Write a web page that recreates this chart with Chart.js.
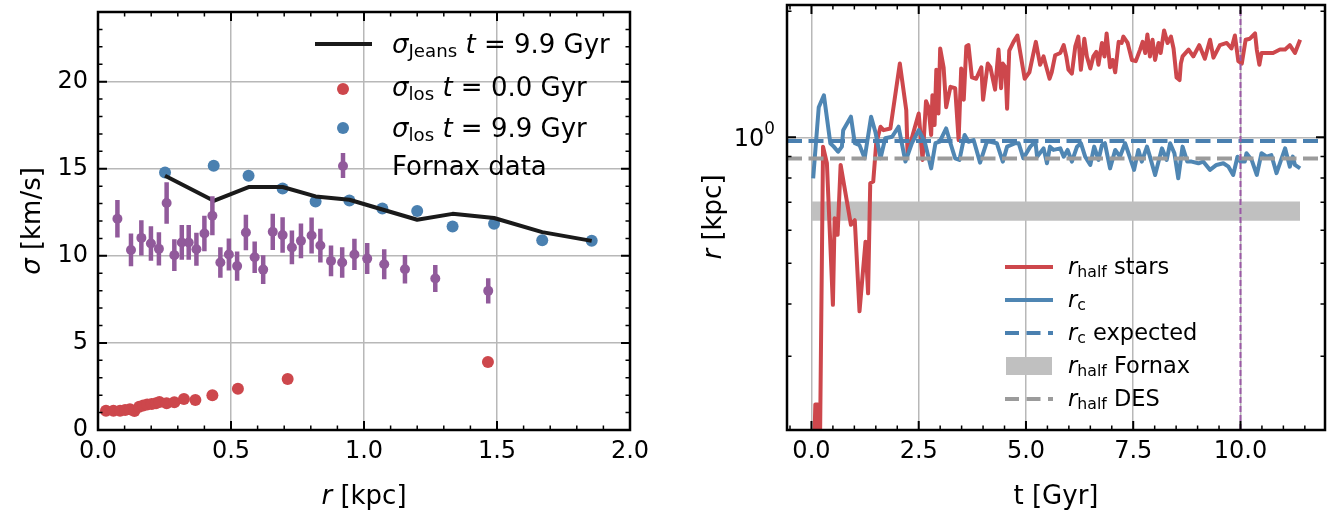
<!DOCTYPE html>
<html>
<head>
<meta charset="utf-8">
<script src="https://cdn.jsdelivr.net/npm/chart.js@4.4.1/dist/chart.umd.min.js"></script>
<style>
  html, body { margin: 0; padding: 0; background: #fff; }
  body { width: 1328px; height: 512px; position: relative; overflow: hidden;
         font-family: "DejaVu Sans", sans-serif; color: #000; }
  canvas { position: absolute; top: 0; }
  #cSigma { left: 0; }
  #cRadius { left: 660px; }
  #swatches { position: absolute; left: 0; top: 0; pointer-events: none; }
  .t { position: absolute; white-space: nowrap; line-height: 1; }
  .t i { font-style: italic; }
  .t sub { font-size: 70%; vertical-align: -0.22em; line-height: 0; }
  .t sup { font-size: 70%; vertical-align: 12px; line-height: 0; }
  .axt { font-size: 26px; transform: translate(-50%, -50%); }
  .axt.rot { transform: translate(-50%, -50%) rotate(-90deg); }
  .lg1 { font-size: 26px; left: 392px; }
  .lg2 { font-size: 22.5px; left: 1068px; }
  #logLabel { font-size: 24px; right: 553px; }
</style>
</head>
<body>
<canvas id="cSigma" width="660" height="512"></canvas>
<canvas id="cRadius" width="668" height="512"></canvas>

<svg id="swatches" width="1328" height="512">
  <!-- left legend -->
  <line x1="315" y1="44" x2="372" y2="44" stroke="#1a1a1a" stroke-width="4"/>
  <circle cx="343" cy="89" r="6" fill="#cd474c"/>
  <circle cx="343" cy="128" r="6" fill="#4a80b0"/>
  <line x1="343" y1="153" x2="343" y2="178" stroke="#915a9b" stroke-width="4.5"/>
  <circle cx="343" cy="166" r="5" fill="#915a9b"/>
  <!-- right legend -->
  <line x1="1005" y1="267" x2="1053" y2="267" stroke="#cd474c" stroke-width="4"/>
  <line x1="1005" y1="300" x2="1053" y2="300" stroke="#4f86b3" stroke-width="4"/>
  <line x1="1005" y1="333" x2="1053" y2="333" stroke="#4a80b0" stroke-width="4" stroke-dasharray="14 7.5"/>
  <rect x="1006" y="357" width="46" height="18" fill="#c0c0c0"/>
  <line x1="1005" y1="399" x2="1053" y2="399" stroke="#9b9b9b" stroke-width="4" stroke-dasharray="14 7.5"/>
</svg>

<div class="t lg1" style="top:31px"><i>σ</i><sub>Jeans</sub> <i>t</i> = 9.9 Gyr</div>
<div class="t lg1" style="top:74px"><i>σ</i><sub>los</sub> <i>t</i> = 0.0 Gyr</div>
<div class="t lg1" style="top:115px"><i>σ</i><sub>los</sub> <i>t</i> = 9.9 Gyr</div>
<div class="t lg1" style="top:153px">Fornax data</div>

<div class="t lg2" style="top:255px"><i>r</i><sub>half</sub> stars</div>
<div class="t lg2" style="top:288px"><i>r</i><sub>c</sub></div>
<div class="t lg2" style="top:321px"><i>r</i><sub>c</sub> expected</div>
<div class="t lg2" style="top:354px"><i>r</i><sub>half</sub> Fornax</div>
<div class="t lg2" style="top:387px"><i>r</i><sub>half</sub> DES</div>

<div class="t axt rot" style="left:31px; top:221px"><i>σ</i> [km/s]</div>
<div class="t axt" style="left:364px; top:495px"><i>r</i> [kpc]</div>
<div class="t axt rot" style="left:712px; top:217px"><i>r</i> [kpc]</div>
<div class="t axt" style="left:1056px; top:495px">t [Gyr]</div>
<div class="t" id="logLabel">10<sup>0</sup></div>

<script>
// ---- left panel: velocity dispersion profiles ----
const rLos0 = [0.030, 0.058, 0.083, 0.102, 0.120, 0.137, 0.155, 0.170, 0.185, 0.202,
               0.218, 0.231, 0.258, 0.287, 0.323, 0.366, 0.430, 0.526, 0.713, 1.466];
const sLos0 = [1.11, 1.11, 1.11, 1.15, 1.19, 1.09, 1.34, 1.40, 1.46, 1.49,
               1.53, 1.61, 1.53, 1.59, 1.78, 1.72, 1.99, 2.37, 2.93, 3.90];

const rLos99 = [0.252, 0.435, 0.566, 0.694, 0.818, 0.945, 1.069, 1.200, 1.333, 1.489, 1.670, 1.856];
const sLos99 = [14.79, 15.17, 14.60, 13.87, 13.12, 13.18, 12.72, 12.57, 11.69, 11.84, 10.90, 10.86];
const sJeans = [14.60, 13.16, 13.95, 13.95, 13.41, 13.22, 12.66, 12.07, 12.41, 12.17, 11.36, 10.86];

const rFnx = [0.073, 0.124, 0.163, 0.199, 0.229, 0.258, 0.287, 0.315, 0.341, 0.370, 0.400,
              0.430, 0.460, 0.492, 0.523, 0.556, 0.589, 0.621, 0.657, 0.694, 0.729, 0.763,
              0.803, 0.836, 0.876, 0.918, 0.964, 1.012, 1.076, 1.154, 1.268, 1.467];
const sFnx = [12.13, 10.34, 11.03, 10.71, 10.40, 13.03, 10.04, 10.77, 10.77, 10.38, 11.28,
              12.30, 9.62, 10.08, 9.41, 11.34, 9.92, 9.21, 11.38, 11.19, 10.48, 10.86,
              11.17, 10.59, 9.71, 9.62, 10.08, 9.84, 9.52, 9.23, 8.70, 7.99];
const eFnx = [1.08, 0.94, 1.01, 0.99, 0.96, 1.19, 0.91, 1.00, 1.00, 0.95, 1.02,
              1.12, 0.88, 0.92, 0.84, 1.02, 0.91, 0.83, 1.04, 1.02, 0.97, 1.00,
              1.03, 0.97, 0.88, 0.88, 0.90, 0.89, 0.86, 0.82, 0.78, 0.73];

const rTicks = [0, 0.5, 1.0, 1.5, 2.0];
const sigmaTicks = [0, 5, 10, 15, 20];

// ---- right panel: radii vs time ----
const tHalf = [0.00, 0.09, 0.15, 0.19, 0.27, 0.36, 0.50, 0.54, 0.61, 0.68, 0.92, 1.01, 1.12, 1.26,
  1.32, 1.37, 1.44, 1.51, 1.61, 1.68, 1.84, 2.06, 2.21, 2.24, 2.50, 2.59, 2.67, 2.73, 2.79, 2.82,
  2.87, 2.91, 2.96, 3.00, 3.08, 3.14, 3.24, 3.35, 3.43, 3.49, 3.55, 3.61, 3.66, 3.74, 3.84, 3.96,
  4.00, 4.11, 4.17, 4.28, 4.36, 4.42, 4.46, 4.52, 4.56, 4.61, 4.71, 4.80, 4.97, 5.08, 5.23, 5.33,
  5.41, 5.46, 5.55, 5.60, 5.68, 5.80, 5.88, 5.94, 5.99, 6.07, 6.15, 6.22, 6.28, 6.36, 6.42, 6.50,
  6.57, 6.64, 6.69, 6.77, 6.83, 6.88, 6.96, 7.02, 7.08, 7.16, 7.23, 7.27, 7.37, 7.47, 7.56, 7.66,
  7.72, 7.78, 7.83, 7.89, 7.95, 8.01, 8.09, 8.14, 8.22, 8.30, 8.38, 8.44, 8.51, 8.58, 8.61, 8.65,
  8.79, 8.90, 9.04, 9.17, 9.29, 9.37, 9.52, 9.68, 9.79, 9.87, 9.95, 10.03, 10.12, 10.22, 10.34,
  10.38, 10.44, 10.49, 10.76, 10.92, 11.04, 11.15, 11.27, 11.39];
const rHalf = [0.10, 0.23, 0.23, 0.15, 0.95, 0.867, 0.398, 0.641, 0.585, 0.859, 0.618, 0.634, 0.384, 0.563,
  0.424, 0.777, 0.784, 0.968, 1.06, 1.04, 1.05, 1.50, 1.16, 0.916, 1.14, 0.883, 1.22, 1.18, 1.013, 1.26,
  1.07, 1.45, 1.14, 1.63, 1.47, 1.18, 1.32, 1.31, 0.985, 1.46, 1.23, 1.65, 1.66, 1.39, 1.38, 1.47,
  1.23, 1.50, 1.47, 1.30, 1.62, 1.31, 1.50, 1.47, 1.17, 1.61, 1.69, 1.75, 1.38, 1.43, 1.69, 1.49,
  1.56, 1.49, 1.38, 1.43, 1.57, 1.59, 1.66, 1.56, 1.45, 1.42, 1.65, 1.74, 1.45, 1.72, 1.56, 1.46,
  1.56, 1.60, 1.49, 1.68, 1.56, 1.77, 1.47, 1.53, 1.43, 1.69, 1.68, 1.74, 1.68, 1.53, 1.52, 1.62,
  1.69, 1.59, 1.76, 1.56, 1.71, 1.53, 1.68, 1.59, 1.80, 1.68, 1.74, 1.63, 1.39, 1.37, 1.50, 1.56,
  1.62, 1.56, 1.66, 1.54, 1.71, 1.55, 1.66, 1.68, 1.63, 1.75, 1.52, 1.50, 1.71, 1.72, 1.77,
  1.62, 1.49, 1.59, 1.59, 1.62, 1.62, 1.66, 1.59, 1.71];

const tCore = [0.04, 0.17, 0.29, 0.44, 0.52, 0.62, 0.71, 0.74, 0.92, 1.01, 1.12, 1.24, 1.39, 1.49,
  1.61, 1.72, 1.88, 2.03, 2.19, 2.34, 2.50, 2.64, 2.79, 2.89, 2.99, 3.14, 3.24, 3.35, 3.45, 3.57,
  3.66, 3.78, 3.93, 4.09, 4.17, 4.32, 4.46, 4.56, 4.75, 4.83, 4.94, 5.10, 5.22, 5.26, 5.41, 5.49,
  5.56, 5.64, 5.80, 5.88, 5.97, 6.07, 6.19, 6.28, 6.38, 6.50, 6.59, 6.69, 6.77, 6.84, 6.96, 7.08,
  7.19, 7.31, 7.43, 7.52, 7.62, 7.70, 7.82, 7.89, 8.01, 8.17, 8.28, 8.36, 8.46, 8.55, 8.65, 8.76,
  8.86, 9.02, 9.13, 9.29, 9.44, 9.60, 9.72, 9.83, 9.93, 10.00, 10.10, 10.14, 10.26, 10.38, 10.49,
  10.61, 10.72, 10.84, 11.04, 11.15, 11.22, 11.27, 11.39];
const rCore = [0.798, 1.18, 1.26, 0.968, 0.950, 0.924, 0.950, 1.04, 1.12, 0.968, 0.958, 0.891, 1.12, 1.03,
  0.891, 0.995, 1.003, 1.06, 0.875, 0.968, 1.04, 0.976, 0.843, 0.968, 0.976, 1.05, 0.968, 0.891, 0.883, 1.013,
  0.976, 0.985, 0.870, 0.976, 0.976, 0.968, 0.875, 0.950, 0.968, 0.968, 0.891, 0.950, 0.976, 0.899, 0.941, 0.867,
  0.950, 0.933, 0.941, 0.899, 0.933, 0.875, 0.950, 0.968, 0.899, 0.859, 0.950, 0.883, 0.958, 0.968, 0.843, 0.933,
  0.899, 0.968, 0.891, 0.836, 0.933, 0.875, 0.950, 0.899, 0.813, 0.941, 0.883, 0.968, 0.916, 0.798, 0.950, 0.875,
  0.875, 0.867, 0.875, 0.836, 0.859, 0.867, 0.851, 0.813, 0.899, 0.875, 0.875, 0.916, 0.883, 0.813, 0.916,
  0.899, 0.907, 0.821, 0.941, 0.851, 0.899, 0.859, 0.843];

const rcExpected = 0.98;
const rHalfDES = 0.89;
const rHalfFnx = [0.632, 0.703];   // band low / high
const tSnapshot = 10.0;

const tTicks = [0, 2.5, 5.0, 7.5, 10.0];
const rLogMajor = [1];
const rLogMinor = [0.2, 0.3, 0.4, 0.5, 0.6, 0.7, 0.8, 0.9, 2];

const RED = '#cd474c', BLUE = '#4a80b0', BLUE_LINE = '#4f86b3', PURPLE = '#915a9b';
const GRID = '#b8b8b8';

Chart.defaults.font.family = '"DejaVu Sans", sans-serif';
Chart.defaults.color = '#000';

function pts(xs, ys) { return xs.map((x, i) => ({ x, y: ys[i] })); }

// vertical error bars as one broken line: bottom, top, gap
function errSegments(xs, ys, es) {
  const out = [];
  xs.forEach((x, i) => {
    out.push({ x, y: ys[i] - es[i] }, { x, y: ys[i] + es[i] }, { x, y: null });
  });
  return out;
}

function tickList(lo, hi, step, majors) {
  const out = [];
  for (let k = Math.ceil(lo / step - 1e-9); k * step <= hi + 1e-9; k++) {
    const v = +(k * step).toFixed(4);
    out.push({ value: v, big: majors.some(m => Math.abs(m - v) < 1e-9) });
  }
  return out;
}

// matplotlib-like frame with inward ticks on all four sides
const frameTicks = {
  id: 'frameTicks',
  afterDraw(chart) {
    const { ctx, chartArea: a } = chart;
    ctx.save();
    ctx.strokeStyle = '#000';
    ['x', 'y'].forEach(id => {
      const sc = chart.scales[id];
      sc.ticks.forEach(t => {
        const p = sc.getPixelForValue(t.value);
        const len = t.big ? 9 : 4.5;
        ctx.lineWidth = t.big ? 2 : 1.5;
        ctx.beginPath();
        if (id === 'x') {
          if (p < a.left - 1 || p > a.right + 1) return;
          ctx.moveTo(p, a.bottom); ctx.lineTo(p, a.bottom - len);
          ctx.moveTo(p, a.top); ctx.lineTo(p, a.top + len);
        } else {
          if (p < a.top - 1 || p > a.bottom + 1) return;
          ctx.moveTo(a.left, p); ctx.lineTo(a.left + len, p);
          ctx.moveTo(a.right, p); ctx.lineTo(a.right - len, p);
        }
        ctx.stroke();
      });
    });
    ctx.lineWidth = 2.5;
    ctx.strokeRect(a.left, a.top, a.width, a.height);
    ctx.restore();
  }
};

const gridColor = c => (c.tick && c.tick.big) ? GRID : 'rgba(0,0,0,0)';
const tickFont = { size: 24 };

function xAxis(min, max, ticksFn, fmt) {
  return {
    type: 'linear', min, max,
    afterBuildTicks: s => { s.ticks = ticksFn(); },
    afterFit: s => { s.height = 82; s.paddingLeft = 0; s.paddingRight = 0; },
    grid: { color: gridColor, lineWidth: 1.5, drawTicks: false },
    border: { display: false },
    ticks: { autoSkip: false, maxRotation: 0, padding: 7, font: tickFont,
             callback: (v, i, ts) => ts[i].big ? fmt(v) : '' }
  };
}

// left panel
new Chart(document.getElementById('cSigma'), {
  type: 'scatter',
  data: {
    datasets: [
      { type: 'line', data: pts(rLos99, sJeans), borderColor: '#1a1a1a', borderWidth: 4,
        borderJoinStyle: 'round', pointRadius: 0, order: 2 },
      { data: pts(rLos0, sLos0), backgroundColor: RED, borderWidth: 0, pointRadius: 6, order: 4 },
      { data: pts(rLos99, sLos99), backgroundColor: BLUE, borderWidth: 0, pointRadius: 6, order: 3 },
      { type: 'line', data: errSegments(rFnx, sFnx, eFnx), borderColor: PURPLE, borderWidth: 4.5,
        pointRadius: 0, spanGaps: false, order: 1 },
      { data: pts(rFnx, sFnx), backgroundColor: PURPLE, borderWidth: 0, pointRadius: 5, order: 0 }
    ]
  },
  options: {
    responsive: false, animation: false, devicePixelRatio: 1,
    layout: { padding: { top: 12, right: 30, left: 0, bottom: 0 } },
    plugins: { legend: { display: false }, tooltip: { enabled: false } },
    scales: {
      x: xAxis(0, 2, () => tickList(0, 2, 0.1, rTicks), v => v.toFixed(1)),
      y: {
        type: 'linear', min: 0, max: 24,
        afterBuildTicks: s => { s.ticks = tickList(0, 24, 1, sigmaTicks); },
        afterFit: s => { s.width = 98; s.paddingTop = 0; s.paddingBottom = 0; },
        grid: { color: gridColor, lineWidth: 1.5, drawTicks: false },
        border: { display: false },
        ticks: { autoSkip: false, padding: 10, font: tickFont,
                 callback: (v, i, ts) => ts[i].big ? String(v) : '' }
      }
    }
  },
  plugins: [frameTicks]
});

// right panel
const yLo = 0.2, yHi = 2.07, xLo = -0.57, xHi = 11.97;
const tEnds = [tHalf[0], tHalf[tHalf.length - 1]];

const radiusChart = new Chart(document.getElementById('cRadius'), {
  type: 'line',
  data: {
    datasets: [
      { data: pts(tEnds, [rHalfFnx[1], rHalfFnx[1]]), borderWidth: 0, pointRadius: 0, order: 10 },
      { data: pts(tEnds, [rHalfFnx[0], rHalfFnx[0]]), borderWidth: 0, pointRadius: 0,
        fill: '-1', backgroundColor: '#c0c0c0', order: 9 },
      { data: pts(tHalf, rHalf), borderColor: RED, borderWidth: 4, borderJoinStyle: 'round',
        pointRadius: 0, order: 6 },
      { data: pts(tCore, rCore), borderColor: BLUE_LINE, borderWidth: 4, borderJoinStyle: 'round',
        pointRadius: 0, order: 5 },
      { data: pts([xLo, xHi], [rcExpected, rcExpected]), borderColor: BLUE, borderWidth: 4,
        borderDash: [15, 6.5], pointRadius: 0, order: 4 },
      { data: pts([xLo, xHi], [rHalfDES, rHalfDES]), borderColor: '#9b9b9b', borderWidth: 4,
        borderDash: [15, 6.5], pointRadius: 0, order: 3 },
      { data: pts([tSnapshot, tSnapshot], [yLo, yHi]), borderColor: '#9b59a6', borderWidth: 2,
        borderDash: [6, 3], pointRadius: 0, order: 2 }
    ]
  },
  options: {
    responsive: false, animation: false, devicePixelRatio: 1,
    layout: { padding: { top: 5, right: 3, left: 0, bottom: 0 } },
    plugins: { legend: { display: false }, tooltip: { enabled: false } },
    elements: { line: { tension: 0 } },
    scales: {
      x: xAxis(xLo, xHi, () => tickList(-0.5, 11.5, 0.5, tTicks), v => v.toFixed(1)),
      y: {
        type: 'logarithmic', min: yLo, max: yHi,
        afterBuildTicks: s => {
          s.ticks = rLogMinor.concat(rLogMajor).sort((a, b) => a - b)
            .map(v => ({ value: v, big: rLogMajor.includes(v) }));
        },
        afterFit: s => { s.width = 127; s.paddingTop = 0; s.paddingBottom = 0; },
        grid: { color: gridColor, lineWidth: 1.5, drawTicks: false },
        border: { display: false },
        ticks: { autoSkip: false, padding: 12, font: tickFont, callback: () => '' }
      }
    }
  },
  plugins: [frameTicks]
});

// the decade label carries a real superscript, placed on the log scale
const yOne = radiusChart.scales.y.getPixelForValue(rLogMajor[0]);
document.getElementById('logLabel').style.top = (yOne - 0.48 * 24) + 'px';
</script>
</body>
</html>
